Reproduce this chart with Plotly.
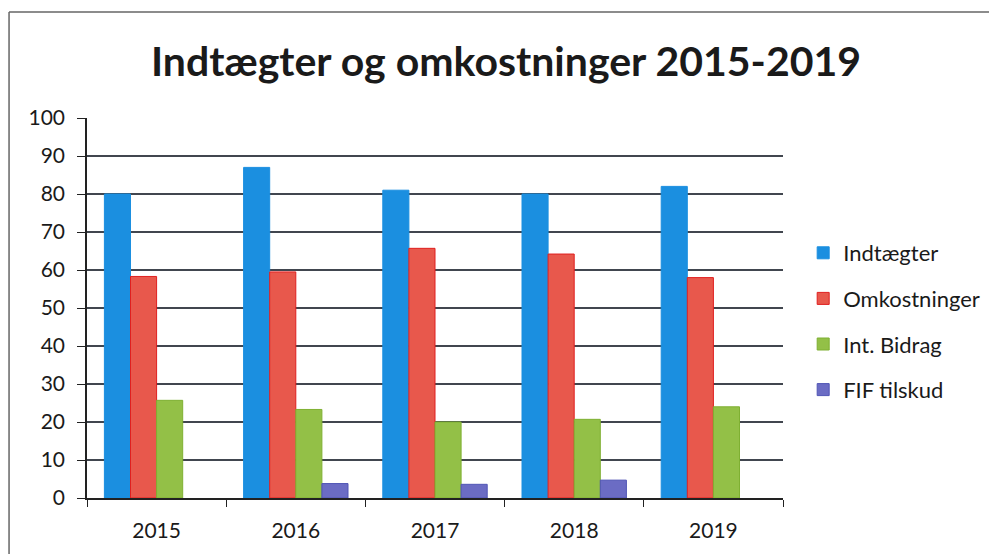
import plotly.graph_objects as go

years = ["2015", "2016", "2017", "2018", "2019"]
indtaegter = [80.0, 87.0, 81.0, 80.0, 82.0]
omkostninger = [58.3, 59.5, 65.7, 64.2, 58.0]
int_bidrag = [25.7, 23.3, 20.0, 20.7, 24.0]
fif_tilskud = [None, 3.8, 3.6, 4.7, None]

series = [
    ("Indtægter", indtaegter, "#1b8fe0", "#1b8fe0"),
    ("Omkostninger", omkostninger, "#e8584c", "#e01f1f"),
    ("Int. Bidrag", int_bidrag, "#93c047", "#7fb032"),
    ("FIF tilskud", fif_tilskud, "#6b6cc4", "#5055b5"),
]

fig = go.Figure()
for name, vals, col, line in series:
    fig.add_trace(go.Bar(
        x=years, y=vals, name=name, legendgroup=name,
        marker=dict(color=col, line=dict(color=line, width=1)),
    ))

font_family = "Lato, 'Open Sans', sans-serif"
fig.update_layout(
    width=997, height=554,
    paper_bgcolor="white", plot_bgcolor="white",
    margin=dict(l=79, r=222, t=110, b=64),
    barmode="group", bargap=0.25, bargroupgap=0,
    title=dict(text="<b>Indtægter og omkostninger 2015-2019</b>",
               x=0.4995, xanchor="center", y=0.9025, yanchor="middle",
               font=dict(family=font_family, size=41, color="#1a1a1a")),
    legend=dict(x=1.029, xanchor="left", y=0.70, yanchor="top",
                font=dict(family=font_family, size=22, color="#1a1a1a"),
                traceorder="grouped", tracegroupgap=14,
                itemwidth=30),
    showlegend=True,
    font=dict(family=font_family, color="#1a1a1a"),
)
fig.update_yaxes(range=[0, 100], dtick=10, showgrid=True,
                 gridcolor="#41464f", gridwidth=1.5,
                 showline=True, linecolor="#222", linewidth=1.5,
                 ticks="outside", ticklen=8, tickcolor="#222",
                 ticklabelstandoff=8,
                 tickfont=dict(size=21, family=font_family), zeroline=False)
fig.update_xaxes(showline=True, linecolor="#222", linewidth=1.5,
                 ticks="outside", tickson="boundaries", ticklen=7, tickcolor="#222",
                 ticklabelstandoff=13,
                 tickfont=dict(size=21, family=font_family))

fig.add_shape(type="line", xref="paper", yref="paper",
              x0=-0.112, x1=1.307, y0=1.279, y1=1.279,
              line=dict(color="#666", width=1.5))
fig.add_shape(type="line", xref="paper", yref="paper",
              x0=-0.112, x1=-0.112, y0=-0.17, y1=1.279,
              line=dict(color="#666", width=1.5))

fig.write_html("out.html")
